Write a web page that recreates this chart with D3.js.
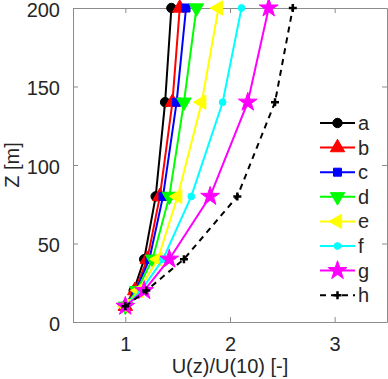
<!DOCTYPE html>
<html>
<head>
<meta charset="utf-8">
<script src="https://cdn.jsdelivr.net/npm/d3@7"></script>
<style>
body { margin: 0; background: #fff; }
svg { font-family: "Liberation Sans", Arial, sans-serif; }
</style>
</head>
<body>
<div id="chart"></div>
<script>
var w = 388,
	h = 379,
	margin = {top: 8, right: 1, bottom: 57, left: 73};

// heights [m]
var heights = [10, 20, 40, 80, 140, 200];

// U(z)/U(10) for each profile
var series_names = ['a', 'b', 'c', 'd', 'e', 'f', 'g', 'h'];
var values_a = [1, 1.08, 1.18, 1.29, 1.38, 1.44];
var values_b = [1, 1.09, 1.21, 1.33, 1.45, 1.52];
var values_c = [1, 1.10, 1.23, 1.36, 1.49, 1.58];
var values_d = [1, 1.11, 1.26, 1.42, 1.56, 1.68];
var values_e = [1, 1.13, 1.31, 1.50, 1.73, 1.89];
var values_f = [1, 1.15, 1.36, 1.63, 1.93, 2.11];
var values_g = [1, 1.18, 1.42, 1.81, 2.17, 2.37];
var values_h = [1, 1.20, 1.56, 2.07, 2.43, 2.60];

var x_ticks = [1, 2, 3],
	y_ticks = [0, 50, 100, 150, 200];

var all_values = [values_a, values_b, values_c, values_d, values_e, values_f, values_g, values_h];

var styles = {
	a: {color: '#000000', marker: 'circle'},
	b: {color: '#ff0000', marker: 'up'},
	c: {color: '#0000ff', marker: 'square'},
	d: {color: '#00ff00', marker: 'down'},
	e: {color: '#ffff00', marker: 'left'},
	f: {color: '#00ffff', marker: 'dot'},
	g: {color: '#ff00ff', marker: 'star'},
	h: {color: '#000000', marker: 'plus', dash: '6,5'}
};

var data = series_names.map(function(name, i){
	return {name: name, points: heights.map(function(z, j){ return {z: z, u: all_values[i][j]}; })};
});

var x = d3.scaleLinear().domain([0.5, 3.5]).range([margin.left, w - margin.right]);
var y = d3.scaleLinear().domain([0, 200]).range([h - margin.bottom, margin.top]);

var svg = d3.select('#chart').append('svg')
	.attr('width', w)
	.attr('height', h);

var axis_color = '#8c8c8c',
	text_color = '#262626',
	font_size = '20px';

// box + ticks
function styleAxis(g) {
	g.select('.domain').attr('stroke', axis_color).attr('stroke-width', 1);
	g.selectAll('.tick line').attr('stroke', axis_color);
	g.selectAll('.tick text').attr('fill', text_color).style('font-size', font_size);
}
svg.append('g')
	.attr('transform', 'translate(0,' + (h - margin.bottom) + ')')
	.call(d3.axisBottom(x).tickValues(x_ticks).tickFormat(d3.format('d')).tickSizeInner(-5).tickSizeOuter(0).tickPadding(15))
	.call(styleAxis);
svg.append('g')
	.attr('transform', 'translate(0,' + margin.top + ')')
	.call(d3.axisTop(x).tickValues(x_ticks).tickSizeInner(-5).tickSizeOuter(0).tickFormat(''))
	.call(styleAxis);
svg.append('g')
	.attr('transform', 'translate(' + margin.left + ',0)')
	.call(d3.axisLeft(y).tickValues(y_ticks).tickSizeInner(-5).tickSizeOuter(0).tickPadding(13))
	.call(styleAxis)
	.call(function(g){ g.selectAll('.tick text').attr('dy', '0.4em'); });
svg.append('g')
	.attr('transform', 'translate(' + (w - margin.right) + ',0)')
	.call(d3.axisRight(y).tickValues(y_ticks).tickSizeInner(-5).tickSizeOuter(0).tickFormat(''))
	.call(styleAxis);

// axis labels
svg.append('text')
	.attr('x', (margin.left + w - margin.right) / 2)
	.attr('y', h - 6)
	.attr('text-anchor', 'middle')
	.attr('fill', text_color)
	.style('font-size', font_size)
	.text('U(z)/U(10) [-]');
svg.append('text')
	.attr('transform', 'translate(19,' + ((margin.top + h - margin.bottom) / 2) + ') rotate(-90)')
	.attr('text-anchor', 'middle')
	.attr('fill', text_color)
	.style('font-size', font_size)
	.text('Z [m]');

// markers
function markerPath(kind) {
	switch(kind) {
		case 'circle': return d3.symbol().type(d3.symbolCircle).size(70)();
		case 'dot': return d3.symbol().type(d3.symbolCircle).size(36)();
		case 'square': return d3.symbol().type(d3.symbolSquare).size(64)();
		case 'up': return d3.symbol().type(d3.symbolTriangle).size(90)();
		case 'down': return d3.symbol().type(d3.symbolTriangle).size(90)();
		case 'left': return d3.symbol().type(d3.symbolTriangle).size(90)();
		case 'star': return d3.symbol().type(d3.symbolStar).size(110)();
		case 'plus': return 'M-4,0L4,0M0,-4L0,4';
	}
}
function markerRotate(kind) {
	if (kind === 'down') { return ' rotate(180)'; }
	if (kind === 'left') { return ' rotate(-90)'; }
	return '';
}
function drawMarker(sel, s) {
	sel.attr('d', markerPath(s.marker))
		.attr('fill', s.marker === 'plus' ? 'none' : s.color)
		.attr('stroke', s.color)
		.attr('stroke-width', s.marker === 'plus' ? 2.5 : 1);
}

var line = d3.line()
	.x(function(d){ return x(d.u); })
	.y(function(d){ return y(d.z); });

var profiles = svg.selectAll('.profile')
	.data(data)
	.enter().append('g')
		.attr('class', 'profile');

profiles.append('path')
	.attr('d', function(d){ return line(d.points); })
	.attr('fill', 'none')
	.attr('stroke', function(d){ return styles[d.name].color; })
	.attr('stroke-width', 2)
	.attr('stroke-dasharray', function(d){ return styles[d.name].dash || null; });

profiles.each(function(d){
	var s = styles[d.name];
	d3.select(this).selectAll('.marker')
		.data(d.points)
		.enter().append('path')
			.attr('class', 'marker')
			.attr('transform', function(p){ return 'translate(' + x(p.u) + ',' + y(p.z) + ')' + markerRotate(s.marker); })
			.call(drawMarker, s);
});

// legend
var legend_x = 320,
	legend_y = 123,
	legend_step = 24.6;

var items = svg.selectAll('.legend-item')
	.data(series_names)
	.enter().append('g')
		.attr('class', 'legend-item')
		.attr('transform', function(d, i){ return 'translate(' + legend_x + ',' + (legend_y + i * legend_step) + ')'; });

items.append('line')
	.attr('x1', 0)
	.attr('x2', 35)
	.attr('stroke', function(d){ return styles[d].color; })
	.attr('stroke-width', 2)
	.attr('stroke-dasharray', function(d){ return styles[d].dash || null; });

items.append('path')
	.attr('transform', function(d){ return 'translate(17.5,0)' + markerRotate(styles[d].marker); })
	.each(function(d){ d3.select(this).call(drawMarker, styles[d]); });

items.append('text')
	.attr('x', 38)
	.attr('dy', '0.35em')
	.attr('fill', text_color)
	.style('font-size', font_size)
	.text(function(d){ return d; });
</script>
</body>
</html>
